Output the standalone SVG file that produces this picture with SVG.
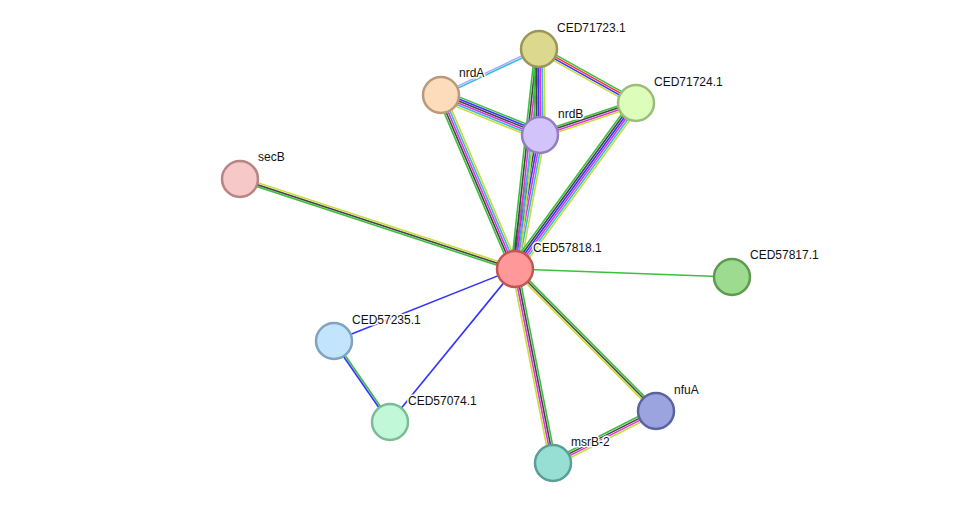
<svg xmlns="http://www.w3.org/2000/svg" width="976" height="509" viewBox="0 0 976 509">
<style>
line{stroke-width:1.6;fill:none}
.g{stroke:#3cbf3c}.k{stroke:#444}.b{stroke:#3333ff}.m{stroke:#dd33dd}.c{stroke:#33bbdd}.y{stroke:#c8dc3a}.r{stroke:#ff3333}.l{stroke:#aaaaff}
circle{stroke-width:2.5}
text{font-family:"Liberation Sans",Arial,sans-serif;font-size:12px;fill:#111;stroke:#fff;stroke-width:3;paint-order:stroke;stroke-linejoin:round}
</style>
<rect width="976" height="509" fill="#fff"/>
<g id="connectors">
<g><line class="g" x1="515" y1="269" x2="240" y2="179" transform="translate(-0.62,1.9)"/><line class="k" x1="515" y1="269" x2="240" y2="179"/><line class="y" x1="515" y1="269" x2="240" y2="179" transform="translate(0.62,-1.9)"/></g>
<line class="g" x1="515" y1="269" x2="732" y2="277"/>
<line class="b" x1="515" y1="269" x2="334" y2="341"/>
<line class="b" x1="515" y1="269" x2="390" y2="422"/>
<g><line class="g" x1="334" y1="341" x2="390" y2="422" transform="translate(0.82,-0.57)"/><line class="b" x1="334" y1="341" x2="390" y2="422" transform="translate(-0.82,0.57)"/></g>
<g><line class="g" x1="515" y1="269" x2="656" y2="411" transform="translate(1.42,-1.41)"/><line class="k" x1="515" y1="269" x2="656" y2="411"/><line class="y" x1="515" y1="269" x2="656" y2="411" transform="translate(-1.42,1.41)"/></g>
<g><line class="g" x1="515" y1="269" x2="553" y2="463" transform="translate(2.94,-0.58)"/><line class="k" x1="515" y1="269" x2="553" y2="463" transform="translate(0.98,-0.19)"/><line class="m" x1="515" y1="269" x2="553" y2="463" transform="translate(-0.98,0.19)"/><line class="y" x1="515" y1="269" x2="553" y2="463" transform="translate(-2.94,0.58)"/></g>
<g><line class="g" x1="656" y1="411" x2="553" y2="463" transform="translate(-1.35,-2.68)"/><line class="k" x1="656" y1="411" x2="553" y2="463" transform="translate(-0.45,-0.89)"/><line class="m" x1="656" y1="411" x2="553" y2="463" transform="translate(0.45,0.89)"/><line class="y" x1="656" y1="411" x2="553" y2="463" transform="translate(1.35,2.68)"/></g>
<g><line class="g" x1="515" y1="269" x2="441" y2="95" transform="translate(-3.68,1.57)"/><line class="k" x1="515" y1="269" x2="441" y2="95" transform="translate(-1.84,0.78)"/><line class="m" x1="515" y1="269" x2="441" y2="95"/><line class="c" x1="515" y1="269" x2="441" y2="95" transform="translate(1.84,-0.78)"/><line class="y" x1="515" y1="269" x2="441" y2="95" transform="translate(3.68,-1.57)"/></g>
<g><line class="g" x1="515" y1="269" x2="540" y2="135" transform="translate(-4.92,-0.92)"/><line class="k" x1="515" y1="269" x2="540" y2="135" transform="translate(-2.95,-0.55)"/><line class="b" x1="515" y1="269" x2="540" y2="135" transform="translate(-0.98,-0.18)"/><line class="m" x1="515" y1="269" x2="540" y2="135" transform="translate(0.98,0.18)"/><line class="c" x1="515" y1="269" x2="540" y2="135" transform="translate(2.95,0.55)"/><line class="y" x1="515" y1="269" x2="540" y2="135" transform="translate(4.92,0.92)"/></g>
<g><line class="g" x1="515" y1="269" x2="539" y2="49" transform="translate(-3.98,-0.43)"/><line class="k" x1="515" y1="269" x2="539" y2="49" transform="translate(-1.99,-0.22)"/><line class="m" x1="515" y1="269" x2="539" y2="49"/><line class="c" x1="515" y1="269" x2="539" y2="49" transform="translate(1.99,0.22)"/><line class="y" x1="515" y1="269" x2="539" y2="49" transform="translate(3.98,0.43)"/></g>
<g><line class="g" x1="515" y1="269" x2="636" y2="103" transform="translate(-4.04,-2.95)"/><line class="k" x1="515" y1="269" x2="636" y2="103" transform="translate(-2.42,-1.77)"/><line class="b" x1="515" y1="269" x2="636" y2="103" transform="translate(-0.81,-0.59)"/><line class="m" x1="515" y1="269" x2="636" y2="103" transform="translate(0.81,0.59)"/><line class="c" x1="515" y1="269" x2="636" y2="103" transform="translate(2.42,1.77)"/><line class="y" x1="515" y1="269" x2="636" y2="103" transform="translate(4.04,2.95)"/></g>
<g><line class="l" x1="441" y1="95" x2="539" y2="49" transform="translate(-0.42,-0.9)"/><line class="c" x1="441" y1="95" x2="539" y2="49" transform="translate(0.42,0.9)"/></g>
<g><line class="g" x1="441" y1="95" x2="540" y2="135" transform="translate(1.87,-4.63)"/><line class="b" x1="441" y1="95" x2="540" y2="135" transform="translate(1.12,-2.78)"/><line class="k" x1="441" y1="95" x2="540" y2="135" transform="translate(0.37,-0.93)"/><line class="m" x1="441" y1="95" x2="540" y2="135" transform="translate(-0.37,0.93)"/><line class="c" x1="441" y1="95" x2="540" y2="135" transform="translate(-1.12,2.78)"/><line class="y" x1="441" y1="95" x2="540" y2="135" transform="translate(-1.87,4.63)"/></g>
<g><line class="g" x1="539" y1="49" x2="540" y2="135" transform="translate(-5,0)"/><line class="k" x1="539" y1="49" x2="540" y2="135" transform="translate(-3,0)"/><line class="b" x1="539" y1="49" x2="540" y2="135" transform="translate(-1,0)"/><line class="m" x1="539" y1="49" x2="540" y2="135" transform="translate(1,0)"/><line class="c" x1="539" y1="49" x2="540" y2="135" transform="translate(3,0)"/><line class="y" x1="539" y1="49" x2="540" y2="135" transform="translate(5,0)"/></g>
<g><line class="g" x1="539" y1="49" x2="636" y2="103" transform="translate(1.46,-2.62)"/><line class="r" x1="539" y1="49" x2="636" y2="103" transform="translate(0.49,-0.87)"/><line class="b" x1="539" y1="49" x2="636" y2="103" transform="translate(-0.49,0.87)"/><line class="y" x1="539" y1="49" x2="636" y2="103" transform="translate(-1.46,2.62)"/></g>
<g><line class="g" x1="540" y1="135" x2="636" y2="103" transform="translate(-0.95,-2.85)"/><line class="k" x1="540" y1="135" x2="636" y2="103" transform="translate(-0.32,-0.95)"/><line class="m" x1="540" y1="135" x2="636" y2="103" transform="translate(0.32,0.95)"/><line class="y" x1="540" y1="135" x2="636" y2="103" transform="translate(0.95,2.85)"/></g>
</g>
<g id="n_CED71723"><circle cx="539" cy="49" r="18" fill="#dcd98f" stroke="#9a9659"/><text x="557" y="32">CED71723.1</text></g>
<g id="n_nrdA"><circle cx="441" cy="95" r="18" fill="#fddcbb" stroke="#bb9a7a"/><text x="459" y="77">nrdA</text></g>
<g id="n_CED71724"><circle cx="636" cy="103" r="18" fill="#ddfdbb" stroke="#9ebd7d"/><text x="654" y="86">CED71724.1</text></g>
<g id="n_nrdB"><circle cx="540" cy="135" r="18" fill="#d2c3fb" stroke="#927fbf"/><text x="558" y="118">nrdB</text></g>
<g id="n_secB"><circle cx="240" cy="179" r="18" fill="#f6c8c8" stroke="#b88585"/><text x="258" y="161">secB</text></g>
<g id="n_CED57818"><circle cx="515" cy="269" r="18" fill="#ff9999" stroke="#c55555"/><text x="533" y="252">CED57818.1</text></g>
<g id="n_CED57817"><circle cx="732" cy="277" r="18" fill="#9ddc90" stroke="#5d9c50"/><text x="750" y="259">CED57817.1</text></g>
<g id="n_CED57235"><circle cx="334" cy="341" r="18" fill="#c3e5fb" stroke="#7fa3c0"/><text x="352" y="324">CED57235.1</text></g>
<g id="n_CED57074"><circle cx="390" cy="422" r="18" fill="#c1f8d7" stroke="#7ebc97"/><text x="408" y="405">CED57074.1</text></g>
<g id="n_nfuA"><circle cx="656" cy="411" r="18" fill="#9ba4de" stroke="#5a64a0"/><text x="674" y="394">nfuA</text></g>
<g id="n_msrB2"><circle cx="553" cy="463" r="18" fill="#97ded5" stroke="#599f96"/><text x="571" y="446">msrB-2</text></g>
</svg>
